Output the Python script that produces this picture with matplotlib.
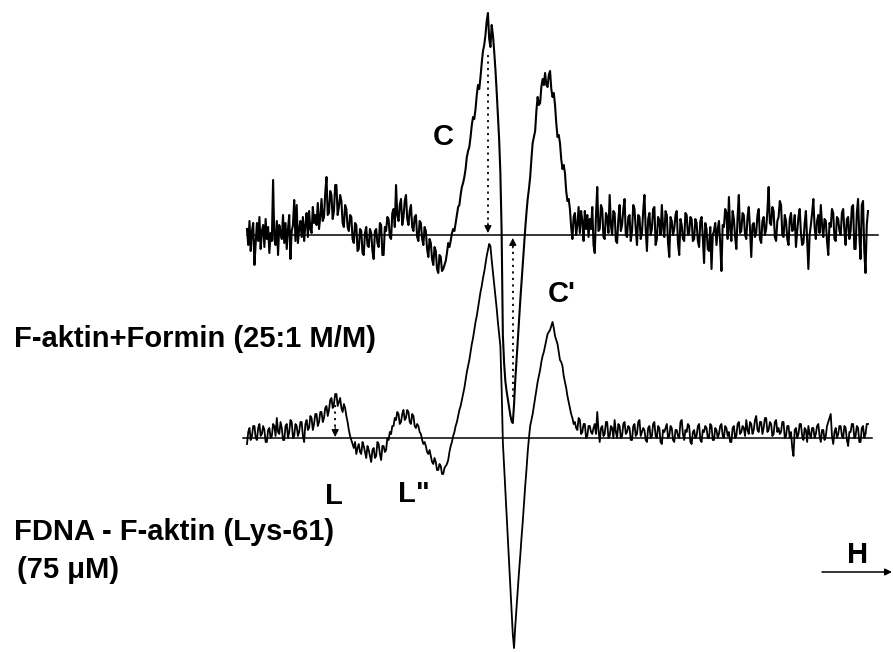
import numpy as np
import matplotlib
matplotlib.use("Agg")
import matplotlib.pyplot as plt
from matplotlib.patches import FancyArrowPatch

# ---- spectra (arbitrary units, 0 = own baseline), sampled over a 100 G sweep ----
formin_signal = [
    6, -10, 14, -16, 4, 12, -30, -8, 12, -6, 18, -14, 4, 10, -12, 16, -4, 8, -18, 2,
    -6, 55, -4, -10, 14, -20, 10, 2, -4, 20, -8, 12, -14, 6, 20, -24, 4, 10, 35, -6,
    30, -8, 6, 14, -2, 18, -6, 10, 22, -2, 24, 6, 2, 28, 12, 20, 10, 32, 6, 18,
    36, 14, 18, 42, 58, 20, 22, 44, 40, 16, 24, 50, 50, 20, 28, 40, 34, 12, 8, 30,
    26, 8, 4, 20, 18, -4, -8, 12, 10, -16, -14, 6, 4, -18, -20, 2, 8, -10, -12, 6,
    2, -16, -24, 4, 6, -8, -12, 12, 10, -20, -20, 8, 4, 18, 16, -2, -4, 22, 26, 8,
    50, 20, 14, 30, 36, 10, 18, 34, 40, 16, 10, 24, 30, 8, 4, 18, 20, -2, -6, 14,
    12, -4, -10, 8, 4, -14, -22, -4, -8, -24, -30, -12, -16, -34, -38, -20, -22, -36, -34, -30,
    -26, -18, -8, -12, -6, 2, 6, 4, 12, 20, 28, 30, 40, 48, 52, 58, 66, 78, 84, 88,
    98, 110, 118, 116, 126, 140, 150, 146, 158, 172, 184, 190, 200, 214, 222, 196, 188, 210, 200, 184,
    166, 144, 120, 96, 62, 4, -100, -128, -146, -156, -164, -172, -180, -186, -188, -170, -145, -126, -106, -86,
    -66, -48, -30, -12, 6, 22, 36, 46, 58, 76, 92, 98, 104, 124, 138, 130, 132, 148, 156, 150,
    162, 150, 148, 160, 164, 146, 138, 142, 130, 112, 98, 100, 92, 76, 66, 70, 62, 44, 34, 36,
    26, 8, -4, 18, 22, 0, 10, 28, 2, 24, 14, -6, 24, 6, 20, -2, 16, 6, 28, -10,
    -18, 20, 48, 4, 6, 30, 26, -2, -4, 22, 18, 2, 40, 10, 0, 24, 22, -6, -8, 16,
    30, 4, 10, 26, 36, 0, -2, 18, 20, -6, 4, 30, 26, 6, -10, 20, 18, -4, 2, 24,
    40, 6, -16, 16, 22, 0, 6, 26, 28, -10, -4, 18, 14, 0, 30, 8, -2, 24, 20, -8,
    -22, 18, 14, 0, 6, 20, 24, -8, -20, 16, 10, -4, -6, 22, 20, 0, 2, 18, 16, -6,
    -4, 16, 12, -6, -12, 14, 18, -2, -28, 12, 6, -14, -16, 8, -34, 0, 4, 12, -10, 6,
    14, -8, -36, 10, 8, 26, 22, -4, 38, 6, -6, 24, 16, -2, -14, 18, 40, 2, 4, 22,
    20, 0, -4, 18, 28, 6, -22, 10, 12, -2, 2, 20, 26, -4, -8, 14, 18, 0, 6, 24,
    48, 12, 10, 28, 24, -2, -6, 14, 18, 34, 30, 0, -2, 20, 14, -4, -10, 16, 22, 4,
    6, 20, -12, 4, 18, 26, 2, -10, -8, 12, 24, -4, -34, 0, 10, 22, 36, 8, -4, 14,
    20, 2, 30, 10, -2, 16, 14, -6, -20, 12, 8, 26, 22, -4, -6, 18, 16, 4, 0, 22,
    26, 4, -10, 16, 18, -4, 4, 28, 30, -14, -14, 22, 36, 0, -24, 30, 34, -16, -38, 10, 24,
]

fdna_signal = [
    -6, 6, 10, -2, 2, 12, 12, 0, -2, 10, 14, 2, 4, 12, 8, -4, -4, 8, 10, 0,
    2, 14, 12, 2, 20, 6, 4, 16, 10, -2, -2, 12, 14, 0, 6, 18, 16, 0, 2, 14,
    12, 2, 6, 16, 16, 2, -4, 14, 18, 8, 10, 22, 20, 8, 14, 24, 24, 12, 16, 26,
    26, 16, 20, 30, 32, 22, 28, 38, 40, 30, 34, 44, 44, 32, 36, 40, 30, 26, 34, 30,
    22, 16, 8, 2, -2, -6, -10, -4, -16, -10, -6, -14, -16, -4, -8, -14, -20, -8, -12, -18,
    -24, -12, -10, -20, -18, -4, -6, -16, -22, -8, -8, -14, -12, 0, -2, 6, 4, 12, 12, 20,
    18, 26, 24, 14, 16, 24, 28, 18, 20, 28, 26, 16, 14, 24, 22, 12, 10, 14, 12, 6,
    4, -2, -6, -4, -8, -14, -16, -12, -18, -24, -26, -20, -24, -32, -32, -26, -28, -36, -36, -30,
    -28, -26, -22, -14, -8, -4, 2, 6, 12, 16, 22, 28, 32, 38, 44, 50, 58, 66, 72, 78,
    86, 94, 100, 108, 116, 122, 130, 138, 146, 152, 160, 166, 174, 182, 188, 194, 192, 178, 166, 154,
    142, 130, 116, 104, 92, 50, -4, -28, -52, -76, -100, -124, -148, -172, -196, -210, -188, -170, -152, -134,
    -118, -100, -84, -66, -48, -32, -14, 0, 12, 18, 24, 32, 40, 48, 56, 62, 68, 76, 82, 86,
    92, 98, 104, 106, 108, 112, 116, 110, 102, 98, 94, 86, 78, 76, 72, 62, 56, 50, 42, 36,
    30, 24, 20, 14, 16, 10, 8, 20, 18, 4, 6, 14, 14, 0, 2, 12, 12, 6, 4, 10,
    14, 4, 26, 8, -4, 10, 12, 2, 4, 16, 16, 0, 2, 12, 10, 0, 18, 6, 0, 14,
    12, 0, 2, 14, 16, 4, 6, 12, 10, -2, -2, 12, 14, 2, 4, 16, 18, 2, 6, 10,
    8, -2, -4, 10, 12, 0, 2, 14, 16, 2, 0, 12, 10, -4, -6, 8, 6, 10, 14, 0,
    2, 12, 10, -2, -4, 8, 8, 2, 0, 16, 18, 4, -2, 8, 6, 14, 12, -4, -6, 6,
    8, 0, 2, 12, 14, -2, -4, 8, 6, 12, 10, 0, 0, 14, 12, -2, -2, 10, 8, 0,
    4, 12, 14, 2, 0, 12, 10, 2, 6, -4, -4, 10, 12, 0, 2, 14, 16, 4, 6, 12,
    10, 2, 18, 8, 4, 16, 14, 4, 8, 18, 22, 8, 6, 16, 16, 4, 10, 20, 20, 6,
    8, 16, 14, 2, 4, 16, 18, 6, 10, 4, 6, 16, 16, 0, 2, 12, 12, 0, 6, -10,
    -18, 8, 10, 0, 4, 14, 14, 2, -2, 10, 8, -4, 12, 4, 0, 10, 10, 0, 4, 12,
    14, 2, -4, 8, 8, -2, 2, 12, 16, 20, 24, 2, -6, 6, 10, 0, 4, 12, 12, 2,
    0, 12, 10, -2, -8, 6, 6, 14, 14, 0, 2, 12, 10, -4, -4, 10, 12, 0, 4, 14, 14,
]

sweep_width = 100.0          # G
formin_offset = 203.0        # vertical shift of the upper spectrum
fdna_offset = 0.0

formin_base_span = (0.0, 101.6)
fdna_base_span = (-0.6, 100.6)

sample_labels = ["F-aktin+Formin (25:1 M/M)", "FDNA - F-aktin (Lys-61)", "(75 \u03bcM)"]
peak_labels = ["C", "C'", "L", 'L"']
field_label = "H"

# ---- figure ----
W, H = 893, 652
fig = plt.figure(figsize=(W / 100, H / 100), dpi=100)
ax = fig.add_axes([0, 0, 1, 1])
px_per_G = 6.21
ax.set_xlim(-247 / px_per_G, (W - 247) / px_per_G)
ax.set_ylim(-214, 438)
ax.axis("off")

formin = np.array(formin_signal, dtype=float)
fdna = np.array(fdna_signal, dtype=float)
field_f = np.linspace(0.0, sweep_width, len(formin))
field_d = np.linspace(0.0, sweep_width, len(fdna))

# baselines
ax.plot(formin_base_span, [formin_offset] * 2, color="k", lw=1.1, zorder=1)
ax.plot(fdna_base_span, [fdna_offset] * 2, color="k", lw=1.1, zorder=1)

# spectra
ax.plot(field_f, formin + formin_offset, color="k", lw=1.5, zorder=2)
ax.plot(field_d, fdna + fdna_offset, color="k", lw=1.3, zorder=2)


def dotted_arrow(x, y_start, y_tip, head_dir):
    """Dotted shaft with a small solid arrowhead at y_tip."""
    ax.plot([x, x], [y_start, y_tip - head_dir * 6], color="k", lw=1.3,
            ls=(0, (1.2, 2.4)), zorder=3)
    ax.annotate("", xy=(x, y_tip), xytext=(x, y_tip - head_dir * 10),
                arrowprops=dict(arrowstyle="-|>", color="k", lw=0.8,
                                mutation_scale=11, shrinkA=0, shrinkB=0),
                zorder=3)


# peak-to-baseline amplitude markers
i_max = int(np.argmax(formin))
dotted_arrow(field_f[i_max], formin_offset + 0.81 * formin[i_max], formin_offset + 2, -1)
i_min = int(np.argmin(formin))
dotted_arrow(field_f[i_min], formin_offset + 0.86 * formin[i_min], formin_offset - 3, +1)
i_l = int(np.argmax(fdna[40:100])) + 40
dotted_arrow(field_d[i_l], fdna_offset + 0.75 * fdna[i_l], fdna_offset + 1, -1)


def fig_xy(px, py):
    return px / W, 1 - py / H


txt = dict(fontsize=21, fontweight="bold", family=["Liberation Sans", "DejaVu Sans"],
           va="baseline", ha="left", color="k")

fig.text(*fig_xy(14, 347), sample_labels[0], **txt)
fig.text(*fig_xy(14, 540), sample_labels[1], **txt)
fig.text(*fig_xy(17, 578), sample_labels[2], **txt)

fig.text(*fig_xy(433, 145), peak_labels[0], **txt)
fig.text(*fig_xy(548, 302), peak_labels[1], **txt)
fig.text(*fig_xy(325, 504), peak_labels[2], **txt)
fig.text(*fig_xy(398, 502), peak_labels[3], **txt)

fig.text(*fig_xy(847, 563), field_label, **txt)
fig.add_artist(FancyArrowPatch(
    fig_xy(822, 572), fig_xy(892, 572), transform=fig.transFigure,
    arrowstyle="-|>", mutation_scale=10, lw=1.1, color="k",
    shrinkA=0, shrinkB=0))

fig.savefig("out.png", dpi=100)
